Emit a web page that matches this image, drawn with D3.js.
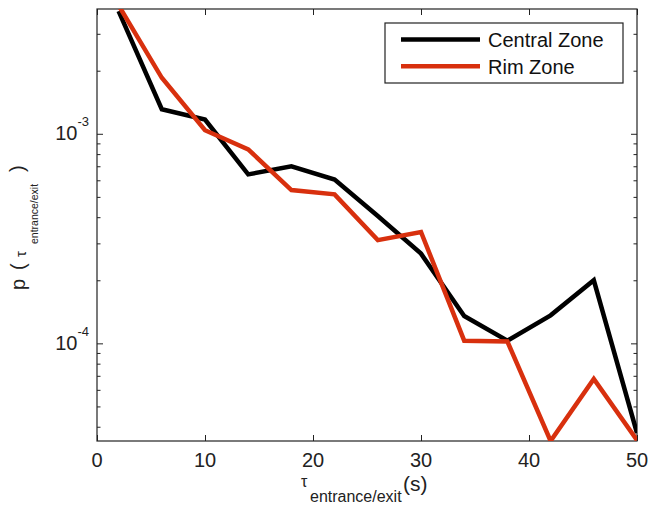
<!DOCTYPE html>
<html>
<head>
<meta charset="utf-8">
<script src="https://cdn.jsdelivr.net/npm/d3@7"></script>
<style>
  body { margin: 0; background: #fff; }
  svg { font-family: Arial, "Liberation Sans", Helvetica, sans-serif; }
</style>
</head>
<body>
<svg id="Vis" width="649" height="509"></svg>
<script>
/* DATA */
const tau = [2, 6, 10, 14, 18, 22, 26, 30, 34, 38, 42, 46, 50];
const central = [3.85e-3, 1.31e-3, 1.17e-3, 6.4e-4, 7.0e-4, 6.05e-4, 4.05e-4, 2.68e-4, 1.35e-4, 1.03e-4, 1.36e-4, 2.0e-4, 3.73e-5];
const rim = [4.1e-3, 1.85e-3, 1.04e-3, 8.43e-4, 5.39e-4, 5.14e-4, 3.11e-4, 3.40e-4, 1.03e-4, 1.02e-4, 3.42e-5, 6.76e-5, 3.45e-5];
const seriesNames = ["Central Zone", "Rim Zone"];
const seriesColors = ["#000000", "#d8300e"];
const xTicks = [0, 10, 20, 30, 40, 50];
const yMajor = [1e-4, 1e-3];
const yExponents = ["-4", "-3"];

const margin = { top: 9, bottom: 68, left: 97, right: 12 };

const svg = d3.select("svg#Vis");
const width = +svg.attr("width");
const height = +svg.attr("height");
const plotWidth = width - margin.left - margin.right;
const plotHeight = height - margin.top - margin.bottom;

const plot = svg.append("g").attr("transform", translate(margin.left, margin.top));

/* SCALES */
const xScale = d3.scaleLinear().domain([0, 50]).range([0, plotWidth]);
const yScale = d3.scaleLog().domain([3.42e-5, 3.94e-3]).range([plotHeight, 0]);

/* clip */
plot.append("clipPath").attr("id", "clip")
  .append("rect").attr("width", plotWidth).attr("height", plotHeight);

/* AXES (ticks inward, mirrored) */
const axisColor = "#222";
const yAll = yScale.ticks().filter(d => d >= yScale.domain()[0] && d <= yScale.domain()[1]);
const yMinor = yAll.filter(d => !yMajor.some(m => Math.abs(m - d) / m < 1e-6));

const xBottom = d3.axisBottom(xScale).tickValues(xTicks).tickSize(-6).tickFormat("");
const xTop = d3.axisTop(xScale).tickValues(xTicks).tickSize(-6).tickFormat("");
const yLeftMajor = d3.axisLeft(yScale).tickValues(yMajor).tickSize(-6).tickFormat("");
const yLeftMinor = d3.axisLeft(yScale).tickValues(yMinor).tickSize(-3.5).tickFormat("");
const yRightMajor = d3.axisRight(yScale).tickValues(yMajor).tickSize(-6).tickFormat("");
const yRightMinor = d3.axisRight(yScale).tickValues(yMinor).tickSize(-3.5).tickFormat("");

plot.append("g").attr("transform", translate(0, plotHeight)).call(xBottom);
plot.append("g").call(xTop);
plot.append("g").call(yLeftMajor);
plot.append("g").call(yLeftMinor);
plot.append("g").attr("transform", translate(plotWidth, 0)).call(yRightMajor);
plot.append("g").attr("transform", translate(plotWidth, 0)).call(yRightMinor);

plot.selectAll(".domain").remove();
plot.selectAll(".tick line").attr("stroke", axisColor).attr("stroke-width", 1);

plot.append("rect")
  .attr("width", plotWidth).attr("height", plotHeight)
  .attr("fill", "none").attr("stroke", axisColor).attr("stroke-width", 1.2);

/* tick labels */
plot.append("g").selectAll("text").data(xTicks).join("text")
  .attr("x", d => xScale(d))
  .attr("y", plotHeight + 26)
  .attr("text-anchor", "middle")
  .attr("font-size", 20)
  .attr("fill", "#222")
  .text(d => d);

const yLab = plot.append("g").selectAll("text").data(yMajor).join("text")
  .attr("x", -8)
  .attr("y", d => yScale(d) + 6.5)
  .attr("text-anchor", "end")
  .attr("fill", "#222");
yLab.append("tspan").attr("font-size", 20).text("10");
yLab.append("tspan").attr("font-size", 13).attr("dy", -14).text((d, i) => yExponents[i]);

/* LINES */
const line = d3.line()
  .x((d, i) => xScale(tau[i]))
  .y(d => yScale(d));

const lines = plot.append("g").attr("clip-path", "url(#clip)");
[central, rim].forEach((s, i) => {
  lines.append("path")
    .datum(s)
    .attr("d", line)
    .attr("fill", "none")
    .attr("stroke", seriesColors[i])
    .attr("stroke-width", 4.5)
    .attr("stroke-linejoin", "miter");
});

/* LEGEND */
const legend = svg.append("g").attr("transform", translate(385, 23));
legend.append("rect")
  .attr("width", 238).attr("height", 60)
  .attr("fill", "#fff").attr("stroke", axisColor).attr("stroke-width", 1.2);
seriesNames.forEach((name, i) => {
  const y = 16.5 + i * 26.7;
  legend.append("line")
    .attr("x1", 16).attr("x2", 95).attr("y1", y).attr("y2", y)
    .attr("stroke", seriesColors[i]).attr("stroke-width", 4.5);
  legend.append("text")
    .attr("x", 103).attr("y", y + 7.5)
    .attr("font-size", 20).attr("fill", "#111")
    .text(name);
});

/* AXIS LABELS */
const xLabel = svg.append("g").attr("fill", "#222");
xLabel.append("text").attr("x", 301).attr("y", 487).attr("font-size", 16).text("\u03c4");
xLabel.append("text").attr("x", 310).attr("y", 502).attr("font-size", 16).text("entrance/exit");
xLabel.append("text").attr("x", 403).attr("y", 491).attr("font-size", 21).text("(s)");

const yLabel = svg.append("g").attr("transform", "rotate(-90)").attr("fill", "#222");
yLabel.append("text").attr("x", -290).attr("y", 25).attr("font-size", 20).text("p");
yLabel.append("text").attr("x", -270).attr("y", 25).attr("font-size", 20).text("(");
yLabel.append("text").attr("x", -257).attr("y", 26).attr("font-size", 15).text("\u03c4");
yLabel.append("text").attr("x", -244).attr("y", 38).attr("font-size", 10.5).text("entrance/exit");
yLabel.append("text").attr("x", -172).attr("y", 24).attr("font-size", 20).text(")");

/*
 * returns a translate string for the transform attribute
 */
function translate(x, y) {
  return "translate(" + String(x) + "," + String(y) + ")";
}
</script>
</body>
</html>
